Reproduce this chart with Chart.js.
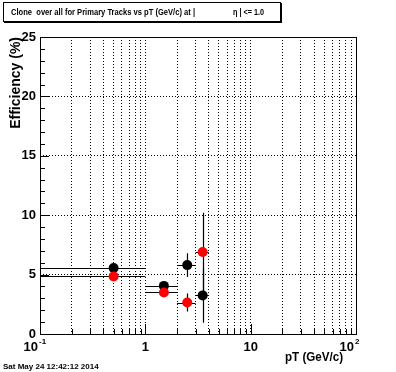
<!DOCTYPE html>
<html>
<head>
<meta charset="utf-8">
<script src="https://cdn.jsdelivr.net/npm/chart.js@4/dist/chart.umd.min.js"></script>
<style>
  html, body { margin: 0; padding: 0; background: #fff; }
  canvas { display: block; }
</style>
</head>
<body>
<canvas id="cloneChart" width="396" height="372"></canvas>
<script>
/* ---------------------------------- Data ---------------------------------- */
const ptBins = [0.5, 1.5, 2.5, 3.5];
const ptHalfWidth = [0.5, 0.5, 0.5, 0.5];

const effBlack = [5.55, 4.05, 5.8, 3.25];
const errBlack = [0.15, 0.3, 1.0, 2.3];

const effRed = [4.85, 3.5, 2.65, 6.9];
const errRed = [0.15, 0.3, 0.75, 3.3];

const xMinorTicks = [0.1, 0.2, 0.3, 0.4, 0.5, 0.6, 0.7, 0.8, 0.9,
  1, 2, 3, 4, 5, 6, 7, 8, 9, 10, 20, 30, 40, 50, 60, 70, 80, 90, 100];
const xMajorTicks = [0.1, 1, 10, 100];
const xTickBase = ["10", "1", "10", "10"];
const xTickExp = ["-1", "", "", "2"];

const titleText = "Clone  over all for Primary Tracks vs pT (GeV/c) at |";
const titleText2 = "\u03b7 | <= 1.0";
const dateText = "Sat May 24 12:42:12 2014";

const FONT = "'Liberation Sans', Arial, Helvetica, sans-serif";

/* ------------------------------- Error bars ------------------------------- */
const errorBars = {
  id: "errorBars",
  beforeDatasetDraw(chart, args) {
    const ds = chart.data.datasets[args.index];
    const { ctx, chartArea } = chart;
    const xs = chart.scales.x;
    const ys = chart.scales.y;

    ctx.save();
    ctx.beginPath();
    ctx.rect(chartArea.left, chartArea.top, chartArea.right - chartArea.left, chartArea.bottom - chartArea.top);
    ctx.clip();
    ctx.strokeStyle = "#000";
    ctx.lineWidth = 1.2;

    ds.data.forEach((p, i) => {
      const lo = Math.max(p.x - ds.ex[i], xs.min);
      const x1 = xs.getPixelForValue(lo);
      const x2 = xs.getPixelForValue(p.x + ds.ex[i]);
      const xc = Math.round(xs.getPixelForValue(p.x)) + 0.5;
      const yc = Math.round(ys.getPixelForValue(p.y)) + 0.5;
      const y1 = ys.getPixelForValue(p.y - ds.ey[i]);
      const y2 = ys.getPixelForValue(p.y + ds.ey[i]);

      ctx.beginPath();
      ctx.moveTo(x1, yc);
      ctx.lineTo(x2, yc);
      ctx.moveTo(xc, y1);
      ctx.lineTo(xc, y2);
      ctx.stroke();
    });
    ctx.restore();
  },
};

/* ----------------------------- ROOT decoration ---------------------------- */
const rootFrame = {
  id: "rootFrame",
  afterDraw(chart) {
    const { ctx, chartArea } = chart;
    const { left, top, right, bottom } = chartArea;
    const xs = chart.scales.x;
    const ys = chart.scales.y;

    ctx.save();
    ctx.strokeStyle = "#000";
    ctx.fillStyle = "#000";
    ctx.lineWidth = 1;

    // frame
    ctx.strokeRect(Math.round(left) + 0.5, Math.round(top) + 0.5,
      Math.round(right - left), Math.round(bottom - top));

    // y ticks (inside the frame)
    ys.ticks.forEach((t) => {
      const y = Math.round(ys.getPixelForValue(t.value)) + 0.5;
      const len = t.value % 5 === 0 ? 9 : 5;
      ctx.beginPath();
      ctx.moveTo(left, y);
      ctx.lineTo(left + len, y);
      ctx.stroke();
    });

    // x ticks (log, inside the frame)
    xMinorTicks.forEach((v) => {
      const x = Math.round(xs.getPixelForValue(v)) + 0.5;
      const len = xMajorTicks.includes(v) ? 10 : 5;
      ctx.beginPath();
      ctx.moveTo(x, bottom);
      ctx.lineTo(x, bottom - len);
      ctx.stroke();
    });

    // x tick labels with exponents
    xMajorTicks.forEach((v, i) => {
      const x = xs.getPixelForValue(v);
      ctx.font = "bold 13px " + FONT;
      ctx.textBaseline = "alphabetic";
      if (xTickExp[i]) {
        ctx.textAlign = "right";
        ctx.fillText(xTickBase[i], x - 2, bottom + 17);
        ctx.font = "bold 8px " + FONT;
        ctx.textAlign = "left";
        ctx.fillText(xTickExp[i], x - 1, bottom + 10);
      } else {
        ctx.textAlign = "center";
        ctx.fillText(xTickBase[i], x, bottom + 17);
      }
    });

    // axis titles
    ctx.font = "bold 13px " + FONT;
    ctx.textAlign = "right";
    ctx.textBaseline = "alphabetic";
    ctx.fillText("pT (GeV/c)", 343, 361, 58);

    ctx.save();
    ctx.translate(20, top);
    ctx.rotate(-Math.PI / 2);
    ctx.font = "bold 14px " + FONT;
    ctx.textAlign = "right";
    ctx.fillText("Efficiency (%)", 0, 0);
    ctx.restore();

    // title box
    ctx.lineWidth = 1;
    ctx.strokeRect(3.5, 2.5, 277, 19);
    ctx.fillRect(4, 22, 278, 1);
    ctx.fillRect(281, 3, 1, 20);
    ctx.font = "bold 9px " + FONT;
    ctx.textAlign = "left";
    ctx.textBaseline = "alphabetic";
    ctx.fillText(titleText, 11, 15, 184);
    ctx.fillText(titleText2, 233, 15, 31);

    // date stamp
    ctx.font = "bold 8px " + FONT;
    ctx.fillText(dateText, 3, 369, 96);

    ctx.restore();
  },
};

/* ---------------------------------- Chart --------------------------------- */
const toPoints = (ys) => ptBins.map((x, i) => ({ x: x, y: ys[i] }));

const ctx = document.getElementById("cloneChart").getContext("2d");
const cloneChart = new Chart(ctx, {
  type: "scatter",
  data: {
    datasets: [
      {
        label: "black",
        data: toPoints(effBlack),
        ex: ptHalfWidth,
        ey: errBlack,
        pointRadius: 5,
        pointBorderWidth: 0,
        pointBackgroundColor: "#000000",
        order: 2,
      },
      {
        label: "red",
        data: toPoints(effRed),
        ex: ptHalfWidth,
        ey: errRed,
        pointRadius: 5,
        pointBorderWidth: 0,
        pointBackgroundColor: "#ff0000",
        order: 1,
      },
    ],
  },
  options: {
    responsive: false,
    animation: false,
    devicePixelRatio: 1,
    layout: {
      padding: { left: 0, top: 37, right: 40, bottom: 0 },
    },
    plugins: {
      legend: { display: false },
      tooltip: { enabled: false },
    },
    scales: {
      x: {
        type: "logarithmic",
        min: 0.1,
        max: 100,
        afterBuildTicks: (scale) => {
          scale.ticks = xMinorTicks.map((v) => ({ value: v }));
        },
        afterFit: (scale) => {
          scale.height = 38;
        },
        ticks: { display: false, autoSkip: false },
        grid: {
          drawTicks: false,
          lineWidth: 1,
          color: (c) =>
            c.tick && c.tick.value > 0.1 && c.tick.value < 100 ? "#000" : "rgba(0,0,0,0)",
        },
        border: { display: false, dash: [1, 2] },
      },
      y: {
        min: 0,
        max: 25,
        afterFit: (scale) => {
          scale.width = 40;
        },
        ticks: {
          stepSize: 1,
          autoSkip: false,
          padding: 4,
          color: "#000",
          font: { family: FONT, size: 13, weight: "bold" },
          callback: (v) => (v % 5 === 0 ? v : ""),
        },
        grid: {
          drawTicks: false,
          lineWidth: 1,
          color: (c) =>
            c.tick && c.tick.value % 5 === 0 && c.tick.value > 0 && c.tick.value < 25
              ? "#000"
              : "rgba(0,0,0,0)",
        },
        border: { display: false, dash: [1, 2] },
      },
    },
  },
  plugins: [errorBars, rootFrame],
});
</script>
</body>
</html>
